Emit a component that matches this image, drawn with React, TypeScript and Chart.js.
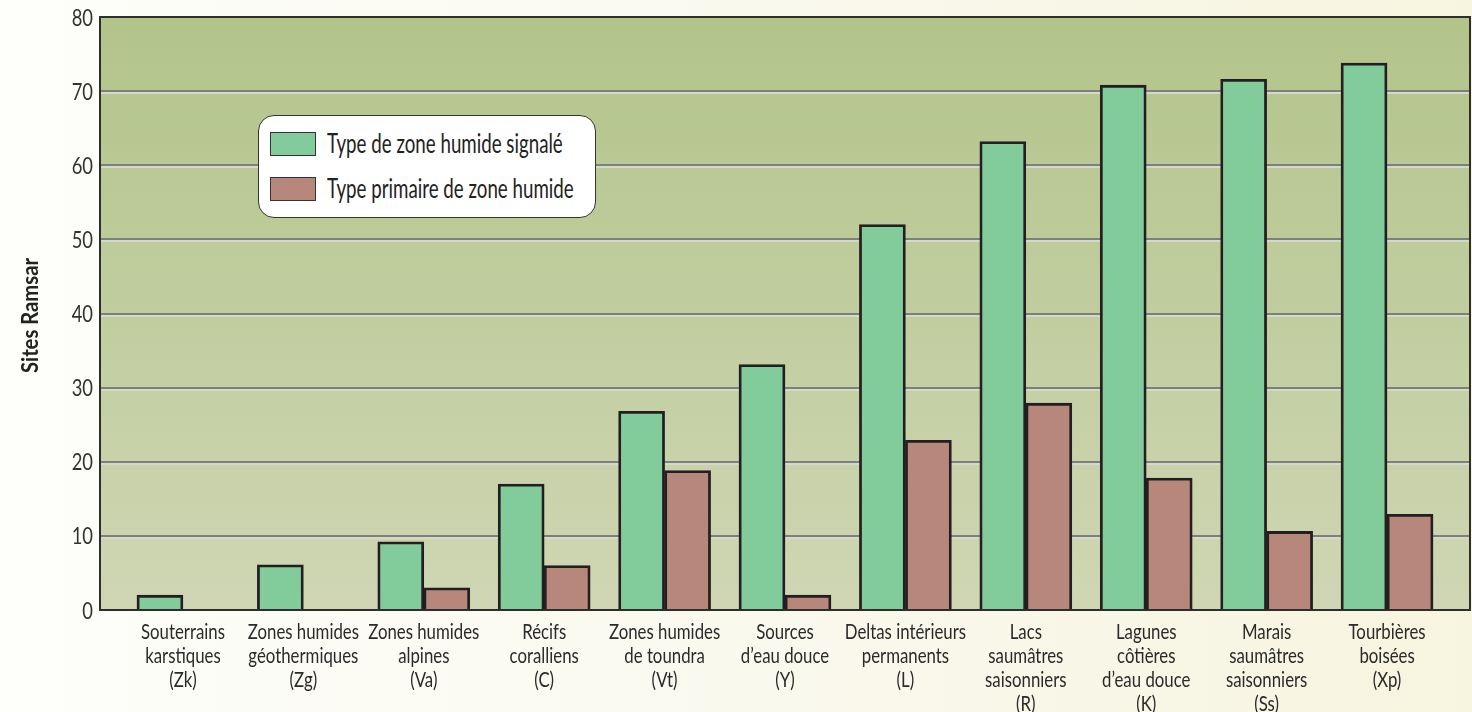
import React, { useEffect, useRef } from "react";
import { Chart, registerables } from "chart.js";

Chart.register(...registerables);

const CATEGORIES: string[][] = [
  ["Souterrains", "karstiques", "(Zk)"],
  ["Zones humides", "géothermiques", "(Zg)"],
  ["Zones humides", "alpines", "(Va)"],
  ["Récifs", "coralliens", "(C)"],
  ["Zones humides", "de toundra", "(Vt)"],
  ["Sources", "d’eau douce", "(Y)"],
  ["Deltas intérieurs", "permanents", "(L)"],
  ["Lacs", "saumâtres", "saisonniers", "(R)"],
  ["Lagunes", "côtières", "d’eau douce", "(K)"],
  ["Marais", "saumâtres", "saisonniers", "(Ss)"],
  ["Tourbières", "boisées", "(Xp)"],
];

const SIGNALED: number[] = [2.0, 6.1, 9.2, 17.0, 26.8, 33.1, 52.0, 63.2, 70.8, 71.6, 73.8];
const PRIMARY: number[] = [0, 0, 3.0, 6.0, 18.8, 2.0, 22.9, 27.9, 17.8, 10.6, 12.9];

const SERIES_NAMES = ["Type de zone humide signalé", "Type primaire de zone humide"];
const SERIES_COLORS = ["#82cb9b", "#b8877c"];
const Y_TITLE = "Sites Ramsar";
const Y_MIN = 0;
const Y_MAX = 80;
const Y_STEP = 10;

const FONT = "Lato, 'Liberation Sans', sans-serif";
const CONDENSE = 0.8;

const plotPlugin = {
  id: "plotDecor",
  beforeDraw(chart: any) {
    const { ctx, chartArea: a } = chart;
    const g = ctx.createLinearGradient(0, a.top, 0, a.bottom);
    g.addColorStop(0, "#b2c48a");
    g.addColorStop(1, "#d0d6b4");
    ctx.save();
    ctx.fillStyle = g;
    ctx.fillRect(a.left, a.top, a.right - a.left, a.bottom - a.top);
    ctx.restore();
  },
  beforeDatasetsDraw(chart: any) {
    const { ctx, chartArea: a } = chart;
    const ys = chart.scales.y;
    ctx.save();
    ys.ticks.forEach((t: any) => {
      if (t.value <= Y_MIN || t.value >= Y_MAX) return;
      const y = Math.round(ys.getPixelForValue(t.value));
      ctx.fillStyle = "#7e807a";
      ctx.fillRect(a.left, y - 1, a.right - a.left, 2);
      ctx.fillStyle = "#d6d8cc";
      ctx.fillRect(a.left, y + 1, a.right - a.left, 2);
    });
    ctx.restore();
  },
  afterDatasetsDraw(chart: any) {
    const { ctx, chartArea: a } = chart;
    ctx.save();
    ctx.strokeStyle = "#2e2e2c";
    ctx.lineWidth = 2;
    ctx.strokeRect(a.left, a.top, a.right - a.left, a.bottom - a.top);
    ctx.restore();
  },
  afterDraw(chart: any) {
    const { ctx, chartArea: a } = chart;
    const xs = chart.scales.x;
    const ys = chart.scales.y;
    ctx.save();
    // y tick labels
    ctx.fillStyle = "#333333";
    ctx.font = `23px ${FONT}`;
    ctx.textAlign = "right";
    ctx.textBaseline = "alphabetic";
    ys.ticks.forEach((t: any) => {
      const y = ys.getPixelForValue(t.value);
      ctx.save();
      ctx.translate(a.left - 7, y + 8.5);
      ctx.scale(CONDENSE, 1);
      ctx.fillText(String(t.value), 0, 0);
      ctx.restore();
    });
    // x category labels
    ctx.fillStyle = "#2a2a2a";
    ctx.font = `21px ${FONT}`;
    ctx.textAlign = "center";
    CATEGORIES.forEach((lines, i) => {
      const x = xs.getPixelForValue(i);
      lines.forEach((line, j) => {
        ctx.save();
        ctx.translate(x, a.bottom + 29 + j * 24);
        ctx.scale(CONDENSE, 1);
        ctx.fillText(line, 0, 0);
        ctx.restore();
      });
    });
    // y axis title
    ctx.fillStyle = "#222222";
    ctx.font = `bold 22px ${FONT}`;
    ctx.textAlign = "center";
    ctx.save();
    ctx.translate(38, (a.top + a.bottom) / 2 + 2);
    ctx.rotate(-Math.PI / 2);
    ctx.scale(0.92, 1);
    ctx.fillText(Y_TITLE, 0, 0);
    ctx.restore();
    ctx.restore();
  },
};

export default function App() {
  const ref = useRef<HTMLCanvasElement | null>(null);

  useEffect(() => {
    document.body.style.margin = "0";
    if (!ref.current) return;
    const chart = new Chart(ref.current, {
      type: "bar",
      data: {
        datasets: [
          {
            label: SERIES_NAMES[0],
            data: SIGNALED.map((v, i) => ({ x: i, y: v })),
            backgroundColor: SERIES_COLORS[0],
            borderColor: "#231f20",
            borderWidth: 2.8,
            barThickness: 46,
          },
          {
            label: SERIES_NAMES[1],
            data: PRIMARY.map((v, i) => ({ x: i, y: v })),
            backgroundColor: SERIES_COLORS[1],
            borderColor: "#231f20",
            borderWidth: 2.8,
            barThickness: 46,
          },
        ],
      } as any,
      options: {
        animation: false,
        responsive: false,
        maintainAspectRatio: false,
        layout: { padding: { left: 0, right: 2, top: 17, bottom: 0 } },
        plugins: {
          legend: { display: false },
          tooltip: { enabled: false },
        },
        scales: {
          x: {
            type: "linear",
            offset: false,
            min: -0.689,
            max: CATEGORIES.length - 1 + 0.689,
            grid: { display: false, drawTicks: false, offset: false },
            border: { display: false },
            ticks: { display: false, stepSize: 1, includeBounds: false },
            afterFit: (s: any) => {
              s.height = 102;
            },
          },
          y: {
            min: Y_MIN,
            max: Y_MAX,
            grid: { display: false, drawTicks: false },
            border: { display: false },
            ticks: { display: false, stepSize: Y_STEP },
            afterFit: (s: any) => {
              s.width = 100;
            },
          },
        },
      } as any,
      plugins: [plotPlugin],
    });
    return () => chart.destroy();
  }, []);

  const legendText: React.CSSProperties = {
    position: "absolute",
    left: 68,
    fontFamily: FONT,
    fontSize: 26,
    color: "#222",
    lineHeight: "30px",
    whiteSpace: "nowrap",
    transform: "scaleX(0.72)",
    transformOrigin: "left center",
  };
  const swatch: React.CSSProperties = {
    position: "absolute",
    left: 11,
    width: 44,
    height: 22,
    border: "1.5px solid #333",
  };

  return (
    <div
      style={{
        position: "relative",
        width: 1472,
        height: 712,
        background: "linear-gradient(to right, #fefefb 0%, #faf9ee 50%, #f7f4df 100%)",
        overflow: "hidden",
      }}
    >
      <canvas ref={ref} width={1472} height={712} style={{ display: "block" }} />
      <div
        style={{
          position: "absolute",
          left: 258,
          top: 115,
          width: 336,
          height: 101,
          background: "#ffffff",
          border: "1.5px solid #333",
          borderRadius: 16,
          boxSizing: "content-box",
        }}
      >
        <div style={{ ...swatch, top: 16, background: SERIES_COLORS[0] }} />
        <div style={{ ...legendText, top: 12 }}>{SERIES_NAMES[0]}</div>
        <div style={{ ...swatch, top: 61, background: SERIES_COLORS[1] }} />
        <div style={{ ...legendText, top: 57 }}>{SERIES_NAMES[1]}</div>
      </div>
    </div>
  );
}
